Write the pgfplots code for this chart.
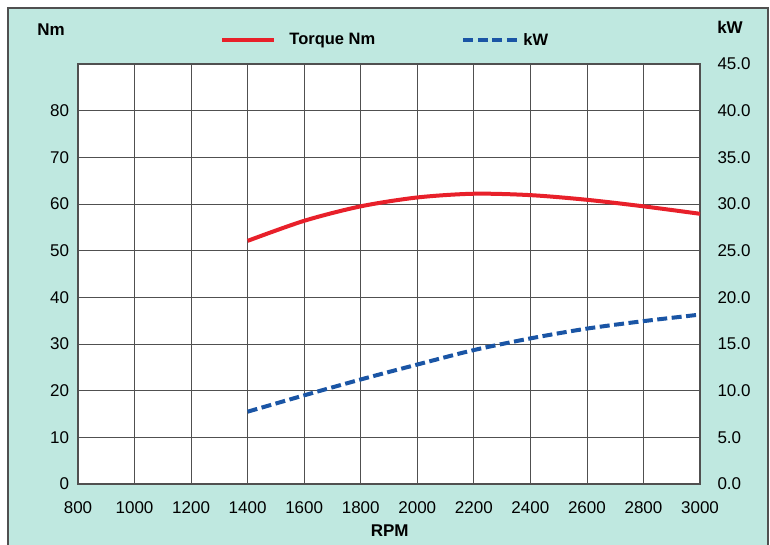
\documentclass[border=0pt]{standalone}
\usepackage{fontspec}
\setmainfont{Liberation Sans}
\usepackage{pgfplots}
\pgfplotsset{compat=1.18}
\definecolor{bgteal}{HTML}{BFE8E0}
\definecolor{tq}{HTML}{E8202A}
\definecolor{kwblue}{HTML}{1A55A5}
\definecolor{gridc}{HTML}{505050}
\pgfplotsset{
  tqleg/.style={legend image code/.code={\draw[##1] (0pt,0pt) -- (52pt,0pt);}},
  kwleg/.style={legend image code/.code={\draw[##1] (0pt,0pt) -- (56pt,0pt);}},
}
\newcommand\lblfont{\bfseries\fontsize{17}{17}\selectfont}
\begin{document}
\begin{tikzpicture}[x=1pt,y=1pt]
\path[use as bounding box] (0,0) rectangle (770,544);
\fill[bgteal] (8,-5) rectangle (768,536);
\draw[gridc, line width=1.2pt] (8,-5) -- (8,536) -- (768,536) -- (768,-5);
\begin{axis}[
  at={(78pt,60pt)}, anchor=south west, scale only axis,
  width=622pt, height=420pt,
  xmin=800, xmax=3000, ymin=0, ymax=90,
  xtick={800,1000,...,3000}, ytick={0,10,...,80},
  grid=major, major grid style={gridc, line width=0.8pt},
  axis line style={gridc, line width=1.4pt},
  tick style={draw=none},
  axis background/.style={fill=white},
  tick label style={font=\fontsize{17}{17}\selectfont},
  /pgf/number format/assume math mode=true,
  /pgf/number format/1000 sep={},
  xticklabel style={yshift=-14.5pt},
  yticklabel style={xshift=-5.5pt},
]
\addplot[tq, line width=4pt, smooth] coordinates {
(1400,52.1)(1600,56.4)(1800,59.5)(2000,61.4)(2200,62.2)(2400,61.9)(2600,60.9)(2800,59.5)(3000,57.9)};
\end{axis}
\begin{axis}[
  at={(78pt,60pt)}, anchor=south west, scale only axis,
  width=622pt, height=420pt,
  xmin=800, xmax=3000, ymin=0, ymax=45,
  axis x line=none, axis y line*=right,
  ytick={0,5,...,45},
  axis line style={draw=none},
  tick style={draw=none},
  tick label style={font=\fontsize{17}{17}\selectfont},
  /pgf/number format/assume math mode=true,
  yticklabel style={xshift=14pt, /pgf/number format/.cd, fixed, fixed zerofill, precision=1},
  legend style={at={(0.494,1.057)}, anchor=center, draw=none, fill=none,
    font=\bfseries\fontsize{16.5}{16.5}\selectfont,
    /tikz/every even column/.append style={column sep=84pt}},
  legend columns=2,
]
\addlegendimage{tq, line width=4pt, tqleg}
\addlegendentry{\hspace{11pt}Torque Nm}
\addplot[kwblue, line width=4pt, dash pattern=on 10pt off 4.5pt, smooth, kwleg] coordinates {
(1400,7.75)(1600,9.5)(1800,11.2)(2000,12.8)(2200,14.35)(2400,15.6)(2600,16.65)(2800,17.45)(3000,18.15)};
\addlegendentry{kW}
\end{axis}
\node[font=\lblfont] at (51,514.5) {Nm};
\node[font=\lblfont] at (730,517) {kW};
\node[font=\lblfont] at (389.7,13) {RPM};
\end{tikzpicture}
\end{document}
